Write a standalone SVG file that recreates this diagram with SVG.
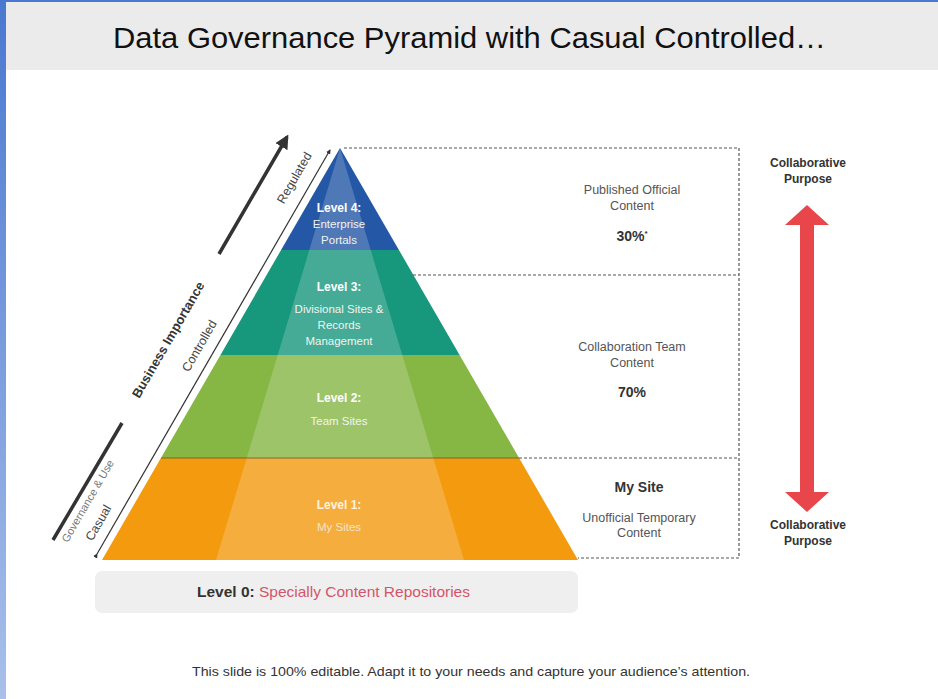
<svg xmlns="http://www.w3.org/2000/svg" width="938" height="699" viewBox="0 0 938 699">
<defs>
<linearGradient id="sideg" x1="0" y1="0" x2="0" y2="1">
<stop offset="0" stop-color="#4a78d0"/><stop offset="1" stop-color="#a9c0ea"/>
</linearGradient>
<marker id="ahb" viewBox="0 0 10 10" refX="8" refY="5" markerWidth="4" markerHeight="4" orient="auto">
<path d="M0,0 L10,5 L0,10 z" fill="#333"/>
</marker>
<clipPath id="pyr"><polygon points="340,148 578,560 102,560"/></clipPath>
</defs>
<style>
.lvl{font-family:"Liberation Sans",Arial,sans-serif;font-size:12px;font-weight:bold;fill:#ffffff;text-anchor:middle}
.sub{font-family:"Liberation Sans",Arial,sans-serif;font-size:11.5px;fill:#f0f4f0;text-anchor:middle}
.rt{font-family:"Liberation Sans",Arial,sans-serif;font-size:12.5px;fill:#555;text-anchor:middle}
.rb{font-family:"Liberation Sans",Arial,sans-serif;font-size:14px;font-weight:bold;fill:#333;text-anchor:middle}
.cp{font-family:"Liberation Sans",Arial,sans-serif;font-size:12px;font-weight:bold;fill:#333;text-anchor:middle}
.side{font-family:"Liberation Sans",Arial,sans-serif;font-size:12.5px;fill:#444;text-anchor:middle}
.dash{fill:none;stroke:#555;stroke-width:1.2;stroke-dasharray:3,2}
</style>
<rect width="938" height="699" fill="#ffffff"/>
<rect x="6" y="2" width="932" height="68" fill="#ebebeb"/>
<rect x="0" y="0" width="938" height="2" fill="#4a78d0"/>
<rect x="0" y="0" width="6" height="699" fill="url(#sideg)"/>
<text x="113" y="48" font-family="Liberation Sans,Arial,sans-serif" font-size="29" fill="#111" textLength="713" lengthAdjust="spacingAndGlyphs">Data Governance Pyramid with Casual Controlled…</text>

<g id="pyramid">
<g clip-path="url(#pyr)">
<rect id="band4" x="90" y="140" width="500" height="110" fill="#2457a6"/>
<rect id="band3" x="90" y="250" width="500" height="105" fill="#17977c"/>
<rect id="band2" x="90" y="355" width="500" height="103" fill="#86b644"/>
<rect id="band1" x="90" y="458" width="500" height="102" fill="#f39a0e"/>
<polygon points="340,148 464,560 216,560" fill="#ffffff" fill-opacity="0.2"/>
<line x1="90" y1="458" x2="590" y2="458" stroke="#5a5a2a" stroke-opacity="0.5" stroke-width="1.5"/>
</g>
</g>

<g id="level4">
<text class="lvl" x="339" y="212">Level 4:</text>
<text class="sub" x="339" y="228">Enterprise</text>
<text class="sub" x="339" y="244">Portals</text>
</g>
<g id="level3">
<text class="lvl" x="339" y="291">Level 3:</text>
<text class="sub" x="339" y="313">Divisional  Sites &amp;</text>
<text class="sub" x="339" y="329">Records</text>
<text class="sub" x="339" y="345">Management</text>
</g>
<g id="level2">
<text class="lvl" x="339" y="402">Level 2:</text>
<text class="sub" x="339" y="425">Team  Sites</text>
</g>
<g id="level1">
<text class="lvl" x="339" y="509" fill-opacity="0.85">Level 1:</text>
<text class="sub" x="339" y="531" fill-opacity="0.8">My Sites</text>
</g>

<g id="level0">
<rect x="95" y="571" width="483" height="42" rx="7" fill="#efefef"/>
<text x="197" y="597" font-family="Liberation Sans,Arial,sans-serif" font-size="15" textLength="273" lengthAdjust="spacingAndGlyphs"><tspan font-weight="bold" fill="#333">Level 0: </tspan><tspan fill="#d2566a">Specially Content Repositories</tspan></text>
</g>

<g id="connectors">
<polyline class="dash" points="344,148 739,148 739,558 578,558"/>
<line class="dash" x1="413" y1="275" x2="739" y2="275"/>
<line class="dash" x1="519" y1="458" x2="739" y2="458"/>
<line x1="97" y1="554" x2="330" y2="150" stroke="#333" stroke-width="1.2" marker-start="url(#ahb)" marker-end="url(#ahb)"/>
<line x1="219" y1="254" x2="287" y2="137" stroke="#333" stroke-width="3.5" marker-end="url(#ahb)"/>
<line x1="53" y1="540" x2="122" y2="423" stroke="#333" stroke-width="3.5"/>
</g>

<g id="side-labels">
<text class="side" transform="translate(298,180) rotate(-60)">Regulated</text>
<text class="side" transform="translate(203,348) rotate(-60)">Controlled</text>
<text transform="translate(172,342) rotate(-60)" font-family="Liberation Sans,Arial,sans-serif" font-size="13" font-weight="bold" fill="#333" text-anchor="middle">Business Importance</text>
<text transform="translate(91,503) rotate(-60)" font-family="Liberation Sans,Arial,sans-serif" font-size="11" fill="#777" text-anchor="middle">Governance  &amp; Use</text>
<text class="side" transform="translate(102,525) rotate(-60)">Casual</text>
</g>

<g id="right-texts">
<text class="rt" x="632" y="194">Published Official</text>
<text class="rt" x="632" y="210">Content</text>
<text x="632" y="241" font-family="Liberation Sans,Arial,sans-serif" font-size="14" font-weight="bold" fill="#333" text-anchor="middle">30%<tspan font-size="8" dy="-5">*</tspan></text>
<text class="rt" x="632" y="351">Collaboration  Team</text>
<text class="rt" x="632" y="367">Content</text>
<text x="632" y="397" font-family="Liberation Sans,Arial,sans-serif" font-size="14" font-weight="bold" fill="#333" text-anchor="middle">70%</text>
<text class="rb" x="639" y="492">My Site</text>
<text class="rt" x="639" y="522">Unofficial  Temporary</text>
<text class="rt" x="639" y="537">Content</text>
</g>

<g id="collab-arrow">
<polygon points="807,205 829,225 814,225 814,492 829,492 807,512 785,492 800,492 800,225 785,225" fill="#e8464b"/>
<text class="cp" x="808" y="167">Collaborative</text>
<text class="cp" x="808" y="183">Purpose</text>
<text class="cp" x="808" y="529">Collaborative</text>
<text class="cp" x="808" y="545">Purpose</text>
</g>

<text x="192" y="676" font-family="Liberation Sans,Arial,sans-serif" font-size="13" fill="#333" textLength="558" lengthAdjust="spacingAndGlyphs">This slide is 100% editable. Adapt it to your needs and capture your audience’s attention.</text>
</svg>
